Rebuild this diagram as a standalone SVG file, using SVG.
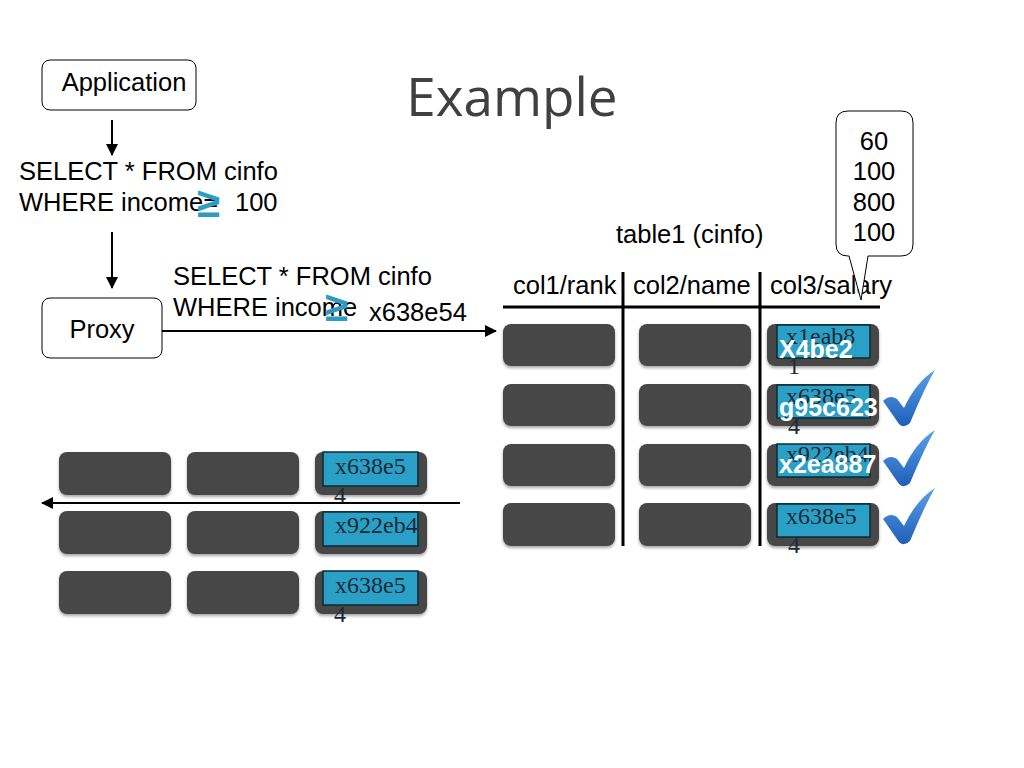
<svg xmlns="http://www.w3.org/2000/svg" width="1024" height="768" viewBox="0 0 1024 768">
<defs>
<marker id="ah" markerWidth="12" markerHeight="12" refX="11" refY="6" orient="auto" markerUnits="userSpaceOnUse">
<path d="M0,0 L12,6 L0,12 Z" fill="#000"/>
</marker>
<filter id="sh" x="-10%" y="-10%" width="130%" height="140%">
<feDropShadow dx="0" dy="2" stdDeviation="1.5" flood-color="#000" flood-opacity="0.35"/>
</filter>
<linearGradient id="ck" x1="0" y1="0" x2="0" y2="1">
<stop offset="0" stop-color="#5aa0ea"/>
<stop offset="1" stop-color="#1f5fb8"/>
</linearGradient>
<path id="check" d="M0,31 Q7,24 14,29 L21,38 Q33,12 52,0 Q42,17 27,53 Q21,59 16,54 Z"/>
</defs>
<style>
.sans{font-family:"Liberation Sans",Arial,sans-serif;font-size:25.5px;fill:#000}
.serif{font-family:"Liberation Serif","Times New Roman",serif;font-size:24px;fill:#1b2a36}
.wb{font-family:"Liberation Sans",Arial,sans-serif;font-size:25px;font-weight:bold;fill:#fff}
.ge{font-family:"Liberation Sans",Arial,sans-serif;font-size:42px;font-weight:bold;fill:#2f9ac2}
.box{fill:#fff;stroke:#000;stroke-width:1}
.cell{fill:#474747;filter:url(#sh)}
.blue{fill:#2aa0c6;stroke:#0d2a33;stroke-width:1.5}
.ln{stroke:#000;stroke-width:2;fill:none}
.vl{stroke:#000;stroke-width:3;fill:none}
.ck{fill:url(#ck)}
</style>
<rect width="1024" height="768" fill="#fff"/>
<text x="512" y="116" text-anchor="middle" font-family="Open Sans,Lato,sans-serif" font-size="53" fill="#404040">Example</text>

<g id="application">
<rect class="box" x="42" y="60" width="154" height="50" rx="8"/>
<text class="sans" x="124" y="91" text-anchor="middle">Application</text>
</g>
<g id="query1">
<text class="sans" x="19" y="180">SELECT * FROM cinfo</text>
<text class="sans" x="19" y="211">WHERE income=</text>
<text class="sans" x="235" y="211">100</text>
<text class="ge" x="197" y="217">≥</text>
</g>
<g id="proxy">
<rect class="box" x="42" y="298" width="120" height="60" rx="8"/>
<text class="sans" x="102" y="338" text-anchor="middle">Proxy</text>
</g>
<g id="query2">
<text class="sans" x="173" y="285">SELECT * FROM cinfo</text>
<text class="sans" x="173" y="316">WHERE income</text>
<text class="ge" x="325" y="321">≥</text>
<text class="sans" x="369" y="321">x638e54</text>
</g>

<g id="connectors">
<line class="ln" x1="112" y1="120" x2="112" y2="155" marker-end="url(#ah)"/>
<line class="ln" x1="112" y1="232" x2="112" y2="288" marker-end="url(#ah)"/>
<line class="ln" x1="162" y1="331" x2="496" y2="331" marker-end="url(#ah)"/>
<line class="ln" x1="460" y1="503" x2="42" y2="503" marker-end="url(#ah)"/>
</g>

<g id="table1">
<text class="sans" x="616" y="243">table1 (cinfo)</text>
<text class="sans" x="513" y="294">col1/rank</text>
<text class="sans" x="633" y="294">col2/name</text>
<text class="sans" x="770" y="294">col3/salary</text>
<line class="vl" x1="503" y1="307" x2="880" y2="307"/>
<line class="vl" x1="623" y1="272" x2="623" y2="546"/>
<line class="vl" x1="760" y1="272" x2="760" y2="546"/>

<rect class="cell" x="503" y="324" width="112" height="42" rx="8"/>
<rect class="cell" x="639" y="324" width="112" height="42" rx="8"/>
<rect class="cell" x="767" y="324" width="112" height="42" rx="8"/>
<rect class="cell" x="503" y="384" width="112" height="42" rx="8"/>
<rect class="cell" x="639" y="384" width="112" height="42" rx="8"/>
<rect class="cell" x="767" y="384" width="112" height="42" rx="8"/>
<rect class="cell" x="503" y="444" width="112" height="42" rx="8"/>
<rect class="cell" x="639" y="444" width="112" height="42" rx="8"/>
<rect class="cell" x="767" y="444" width="112" height="42" rx="8"/>
<rect class="cell" x="503" y="503" width="112" height="43" rx="8"/>
<rect class="cell" x="639" y="503" width="112" height="43" rx="8"/>
<rect class="cell" x="767" y="503" width="112" height="43" rx="8"/>

<rect class="blue" x="777" y="325" width="93" height="33"/>
<text class="serif" x="786" y="344">x1eab8</text>
<text class="serif" x="788" y="374">1</text>
<text class="wb" x="779" y="358">X4be2</text>

<rect class="blue" x="777" y="385" width="93" height="33"/>
<text class="serif" x="786" y="404">x638e5</text>
<text class="serif" x="788" y="434">4</text>
<text class="wb" x="779" y="416">g95c623</text>

<rect class="blue" x="777" y="444" width="93" height="33"/>
<text class="serif" x="786" y="462">x922eb4</text>
<text class="wb" x="779" y="473">x2ea887</text>

<rect class="blue" x="777" y="504" width="93" height="33"/>
<text class="serif" x="786" y="524">x638e5</text>
<text class="serif" x="788" y="553">4</text>

<use href="#check" class="ck" x="883" y="370"/>
<use href="#check" class="ck" x="883" y="430"/>
<use href="#check" class="ck" x="883" y="488"/>
</g>

<g id="callout">
<path d="M848,111 H901 Q913,111 913,123 V244 Q913,256 901,256 H868 L861,300 L849,256 H848 Q836,256 836,244 V123 Q836,111 848,111 Z" fill="#fff" stroke="#000" stroke-width="1"/>
<text class="sans" x="874" y="150" text-anchor="middle">60</text>
<text class="sans" x="874" y="180" text-anchor="middle">100</text>
<text class="sans" x="874" y="211" text-anchor="middle">800</text>
<text class="sans" x="874" y="241" text-anchor="middle">100</text>
</g>

<g id="result">
<rect class="cell" x="59" y="452" width="112" height="43" rx="8"/>
<rect class="cell" x="187" y="452" width="112" height="43" rx="8"/>
<rect class="cell" x="315" y="452" width="112" height="43" rx="8"/>
<rect class="cell" x="59" y="511" width="112" height="43" rx="8"/>
<rect class="cell" x="187" y="511" width="112" height="43" rx="8"/>
<rect class="cell" x="315" y="511" width="112" height="43" rx="8"/>
<rect class="cell" x="59" y="571" width="112" height="43" rx="8"/>
<rect class="cell" x="187" y="571" width="112" height="43" rx="8"/>
<rect class="cell" x="315" y="571" width="112" height="43" rx="8"/>

<rect class="blue" x="323" y="452" width="95" height="34"/>
<text class="serif" x="335" y="474">x638e5</text>
<text class="serif" x="334" y="503">4</text>
<rect class="blue" x="323" y="512" width="95" height="34"/>
<text class="serif" x="335" y="533">x922eb4</text>
<rect class="blue" x="323" y="571" width="95" height="34"/>
<text class="serif" x="335" y="593">x638e5</text>
<text class="serif" x="334" y="622">4</text>
</g>
</svg>
